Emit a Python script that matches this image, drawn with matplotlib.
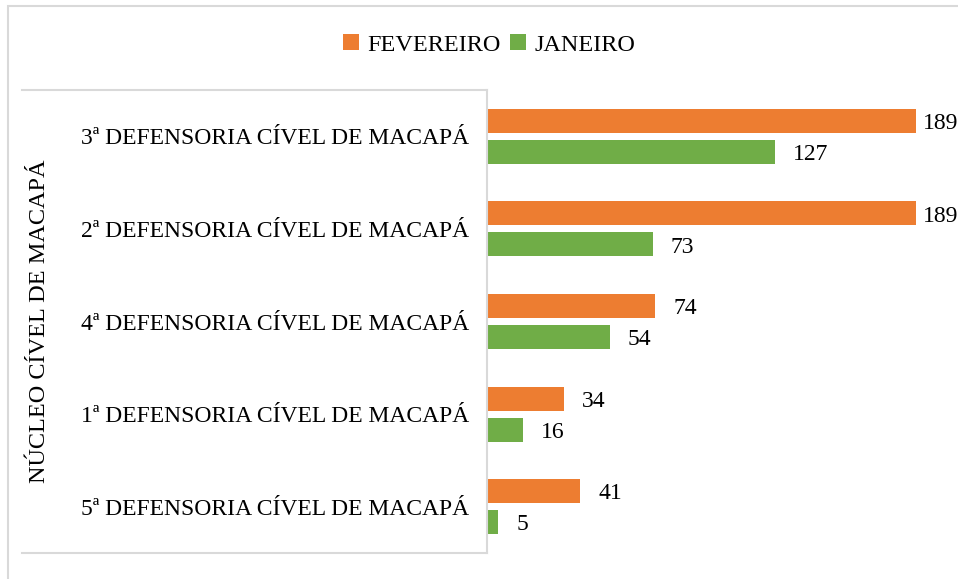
import numpy as np
import matplotlib.pyplot as plt
from matplotlib.patches import Rectangle
from matplotlib.lines import Line2D

categorias = ['3ª DEFENSORIA CÍVEL DE MACAPÁ', '2ª DEFENSORIA CÍVEL DE MACAPÁ',
              '4ª DEFENSORIA CÍVEL DE MACAPÁ', '1ª DEFENSORIA CÍVEL DE MACAPÁ',
              '5ª DEFENSORIA CÍVEL DE MACAPÁ']
fevereiro = [189, 189, 74, 34, 41]
janeiro = [127, 73, 54, 16, 5]
grupo = 'NÚCLEO CÍVEL DE MACAPÁ'

laranja = '#ED7D31'
verde = '#70AD47'
cinza = '#d9d9d9'

plt.rcParams['font.family'] = ['Liberation Serif', 'DejaVu Serif']

W, H = 958, 579
fig = plt.figure(figsize=(W / 100, H / 100), dpi=100)

def fx(px):
    return px / W

def fy(py):
    return 1 - py / H

# borda externa do grafico (passa da borda direita/inferior)
fig.patches.append(Rectangle((fx(8), fy(600)), fx(1000), fy(6) - fy(600),
                             transform=fig.transFigure, fill=False,
                             edgecolor=cinza, lw=1.5))

ax = fig.add_axes([fx(487), fy(553), fx(941) - fx(487), fy(90) - fy(553)])
y = np.arange(len(categorias))
h = 0.26
g = 0.075
b1 = ax.barh(y - (h + g) / 2, fevereiro, height=h, color=laranja, label='FEVEREIRO')
b2 = ax.barh(y + (h + g) / 2, janeiro, height=h, color=verde, label='JANEIRO')

# rotulos de valor
for barras, vals in ((b1, fevereiro), (b2, janeiro)):
    for rect, v in zip(barras, vals):
        pad = 5 if v > 180 else 13
        ax.annotate(str(v), (rect.get_width(), rect.get_y() + rect.get_height() / 2),
                    xytext=(pad, -2), textcoords='offset points',
                    ha='left', va='center', fontsize=17, annotation_clip=False)

ax.set_ylim(len(categorias) - 0.5, -0.5)
ax.set_xlim(0, 200)
ax.set_yticks(y)
ax.set_yticklabels(categorias, fontsize=17)
ax.tick_params(axis='y', length=0, pad=13)
ax.set_xticks([])
for s in ['top', 'right', 'bottom']:
    ax.spines[s].set_visible(False)
ax.spines['left'].set_color(cinza)
ax.spines['left'].set_linewidth(1.5)

# linhas da caixa dos rotulos
for py in (90, 553):
    fig.lines.append(Line2D([fx(22), fx(487)], [fy(py), fy(py)],
                            transform=fig.transFigure, color=cinza, lw=1.5))

fig.text(fx(40), fy(321), grupo, rotation=90, ha='center', va='center', fontsize=17.5)

fig.legend(loc='center', bbox_to_anchor=(fx(489), fy(45)), ncol=2, frameon=False,
           fontsize=17.5, handlelength=0.65, handleheight=0.65, handletextpad=0.35,
           columnspacing=0.4)

fig.savefig('out.png', dpi=100)
